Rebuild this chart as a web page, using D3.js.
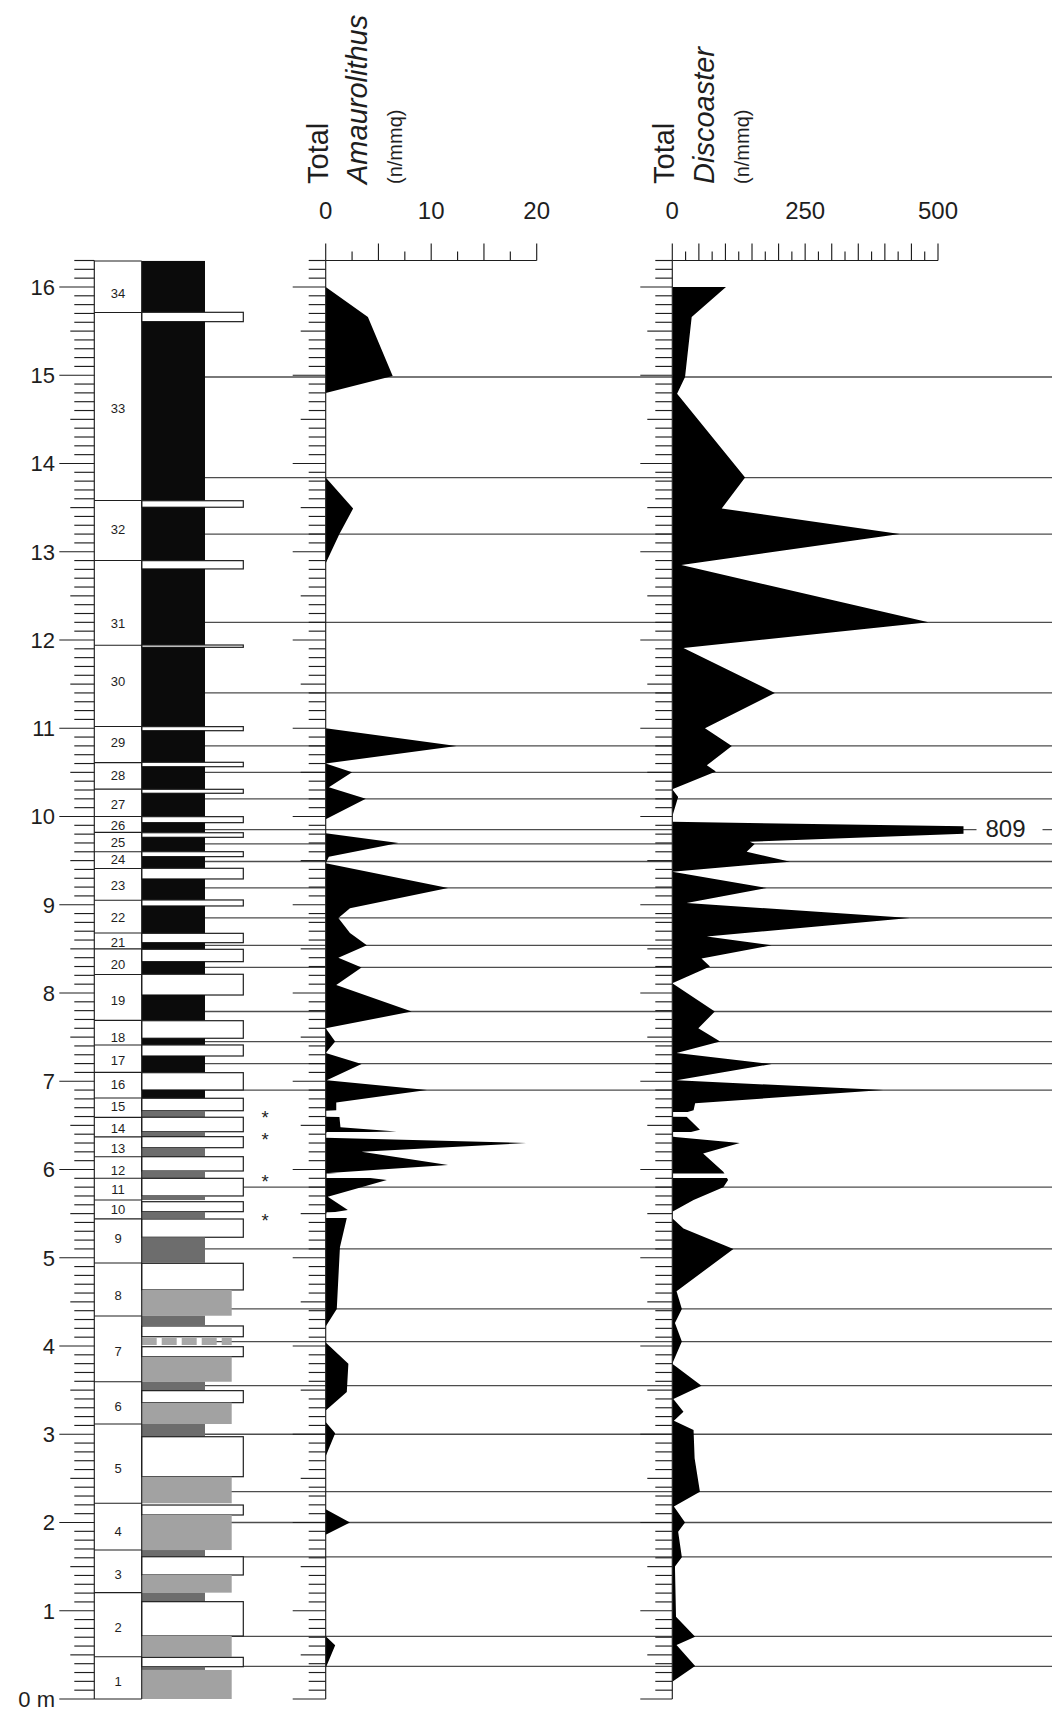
<!DOCTYPE html>
<html>
<head>
<meta charset="utf-8">
<script src="https://cdn.jsdelivr.net/npm/d3@7"></script>
<style>
  body { margin: 0; background: #fff; }
  svg { display: block; font-family: "Liberation Sans", Arial, sans-serif; }
</style>
</head>
<body>
<svg id="chart" width="1052" height="1714"></svg>
<script>
// ---------- data ----------
// Bed boundaries (m), base to top, and bed numbering
const bedBounds = [0, 0.479, 1.205, 1.688, 2.218, 3.116, 3.595, 4.34, 4.94, 5.44, 5.654, 5.90, 6.145,
  6.37, 6.59, 6.81, 7.10, 7.41, 7.69, 8.21, 8.50, 8.68, 9.05, 9.41, 9.60, 9.82, 10.00, 10.31, 10.61,
  11.02, 11.94, 12.90, 13.58, 15.71, 16.295];
const bedNames = d3.range(1, 35).map(String);
const bedLabelDepth = [0.20, 0.81, 1.41, 1.90, 2.61, 3.31, 3.94, 4.57, 5.22, 5.55, 5.77, 5.99, 6.24,
  6.47, 6.71, 6.96, 7.23, 7.49, 7.92, 8.32, 8.57, 8.86, 9.22, 9.51, 9.70, 9.90, 10.14, 10.46, 10.84,
  11.53, 12.19, 13.25, 14.62, 15.93];

// Lithological log: [top (m), base (m), facies]
const lithology = [
  [16.295, 15.713, "dark"], [15.713, 15.607, "pale"], [15.607, 13.578, "dark"], [13.578, 13.504, "pale"],
  [13.504, 12.899, "dark"], [12.899, 12.805, "pale"], [12.805, 11.943, "dark"], [11.943, 11.917, "pale"],
  [11.917, 11.018, "dark"], [11.018, 10.972, "pale"], [10.972, 10.614, "dark"], [10.614, 10.564, "pale"],
  [10.564, 10.308, "dark"], [10.308, 10.263, "pale"], [10.263, 9.998, "dark"], [9.998, 9.930, "pale"],
  [9.930, 9.816, "dark"], [9.816, 9.764, "pale"], [9.764, 9.601, "dark"], [9.601, 9.545, "pale"],
  [9.545, 9.413, "dark"], [9.413, 9.292, "pale"], [9.292, 9.054, "dark"], [9.054, 8.986, "pale"],
  [8.986, 8.676, "dark"], [8.676, 8.570, "pale"], [8.570, 8.495, "dark"], [8.495, 8.355, "pale"],
  [8.355, 8.212, "dark"], [8.212, 7.977, "pale"], [7.977, 7.686, "dark"], [7.686, 7.487, "pale"],
  [7.487, 7.411, "dark"], [7.411, 7.286, "pale"], [7.286, 7.097, "dark"], [7.097, 6.901, "pale"],
  [6.901, 6.807, "dark"], [6.807, 6.666, "pale"], [6.666, 6.592, "midgrey"], [6.592, 6.428, "pale"],
  [6.428, 6.372, "midgrey"], [6.372, 6.247, "pale"], [6.247, 6.145, "midgrey"], [6.145, 5.983, "pale"],
  [5.983, 5.900, "midgrey"], [5.900, 5.700, "pale"], [5.700, 5.654, "midgrey"], [5.635, 5.522, "pale"],
  [5.522, 5.447, "midgrey"], [5.439, 5.232, "pale"], [5.232, 4.944, "midgrey"], [4.937, 4.635, "pale"],
  [4.635, 4.343, "grey"], [4.343, 4.238, "midgrey"], [4.227, 4.105, "pale"], [4.092, 4.010, "wavy"],
  [3.992, 3.879, "pale"], [3.879, 3.595, "grey"], [3.595, 3.494, "midgrey"], [3.494, 3.358, "pale"],
  [3.358, 3.116, "grey"], [3.116, 2.972, "midgrey"], [2.972, 2.519, "pale"], [2.519, 2.218, "grey"],
  [2.198, 2.085, "pale"], [2.085, 1.688, "grey"], [1.688, 1.612, "midgrey"], [1.612, 1.405, "pale"],
  [1.405, 1.205, "grey"], [1.205, 1.103, "midgrey"], [1.103, 0.714, "pale"], [0.714, 0.479, "grey"],
  [0.472, 0.366, "pale"], [0.366, 0.329, "midgrey"], [0.329, 0, "grey"]
];

// Sampled levels traced across the panels (m)
const sampleDepths = [14.98, 13.84, 13.20, 12.20, 11.40, 10.80, 10.50, 10.20, 9.85, 9.69, 9.49, 9.19,
  8.85, 8.54, 8.29, 7.79, 7.45, 7.20, 6.90, 5.80, 5.10, 4.42, 4.05, 3.55, 3.00, 2.35, 2.00, 1.61, 0.71, 0.37];
// Blank strips in the curves, and the asterisks flagging them beside the log
const markedDepths = [6.625, 6.40, 5.93, 5.49];
const asteriskDepths = [6.635, 6.385, 5.91, 5.465];

// Total Amaurolithus (n/mmq)
const amauDepth = [16.00, 15.66, 14.99, 14.80, 13.84, 13.49, 13.20, 12.87, 11.00, 10.80, 10.60, 10.50,
  10.33, 10.20, 9.97, 9.81, 9.70, 9.545, 9.47, 9.19, 8.96, 8.85, 8.68, 8.54, 8.40, 8.29, 8.09, 7.79,
  7.60, 7.45, 7.32, 7.195, 7.01, 6.90, 6.76, 6.67, 6.665, 6.60, 6.595, 6.48, 6.43, 6.415, 6.36, 6.30,
  6.20, 6.05, 5.96, 5.88, 5.69, 5.54, 5.50, 5.45, 5.449, 5.12, 4.42, 4.22, 4.04, 3.80, 3.48, 3.27,
  3.14, 3.01, 2.75, 2.15, 2.00, 1.86, 0.71, 0.61, 0.35];
const amauValue = [0, 4.0, 6.35, 0, 0, 2.6, 1.3, 0, 0, 12.4, 0, 2.5,
  0.3, 3.8, 0, 0, 6.9, 0.3, 0, 11.6, 2.3, 1.2, 2.3, 3.9, 1.2, 3.4, 1.0, 8.15,
  0, 0.9, 0, 3.4, 0.1, 9.6, 1.0, 1.0, 0, 0, 1.3, 1.4, 6.7, 0, 0, 19.0,
  3.4, 11.6, 0.3, 5.8, 0.2, 2.1, 0, 0, 2.0, 1.35, 1.05, 0, 0, 2.15, 2.0, 0,
  0, 0.9, 0, 0, 2.3, 0, 0, 0.9, 0];

// Total Discoaster (n/mmq)
const discDepth = [16.00, 16.00, 15.66, 14.98, 14.79, 13.84, 13.49, 13.20, 12.85, 12.20, 11.91, 11.40,
  11.00, 10.80, 10.58, 10.51, 10.31, 10.22, 10.00, 9.94, 9.865, 9.714, 9.688, 9.60, 9.488, 9.375, 9.19,
  9.02, 8.85, 8.64, 8.54, 8.39, 8.30, 8.11, 7.79, 7.60, 7.45, 7.32, 7.195, 7.01, 6.90, 6.75, 6.67,
  6.60, 6.599, 6.45, 6.372, 6.30, 6.18, 5.975, 5.88, 5.80, 5.654, 5.522, 5.447, 5.33, 5.10, 4.62, 4.42,
  4.26, 4.05, 3.80, 3.55, 3.40, 3.256, 3.154, 3.048, 2.727, 2.349, 2.18, 2.00, 1.896, 1.606, 1.50,
  0.933, 0.706, 0.612, 0.374, 0.196];
const discValue = [0, 101, 36.5, 24, 9, 137, 93, 428, 17, 482, 21, 193,
  61.5, 112, 65, 82, 0, 11, 0, 0, 809, 146, 155, 140, 221.5, 0, 177.6,
  27, 447, 65, 187, 55, 71, 0, 80, 49, 90, 8, 187, 8, 397, 43, 40,
  0, 27, 52, 0, 127, 58, 96, 105, 96, 40, 0, 0, 21, 115, 8, 18,
  5, 18, 0, 55, 2, 21, 3, 40, 42, 52, 3, 24, 11, 18, 5,
  7, 43, 8, 43, 0];

// Axis ticks
const depthTicks = d3.range(0, 17);
const amauTickLabels = [0, 10, 20];
const discTickLabels = [0, 250, 500];

// ---------- layout ----------
const svg = d3.select("#chart");
const INK = "#1e1e1e";
const y = d3.scaleLinear().domain([0, 16.3]).range([1699, 260.5]);
const xA = d3.scaleLinear().domain([0, 20]).range([325.7, 536.7]);
const xD = d3.scaleLinear().domain([0, 500]).range([672.3, 938.0]);
const DISC_CAP = 548;            // curve values beyond this are cut at the panel edge

const COL = { ruler: 94.3, log: 141.7, dark: 205, grey: 231.7, pale: 243.3 };
const faciesFill = { dark: "#0b0b0b", midgrey: "#6d6d6d", grey: "#a2a2a2", pale: "#ffffff" };
const faciesRight = { dark: COL.dark, midgrey: COL.dark, grey: COL.grey, pale: COL.pale };

// sample levels
svg.append("g")
  .selectAll("line").data(sampleDepths).join("line")
  .attr("x1", COL.dark).attr("x2", 1052)
  .attr("y1", d => y(d)).attr("y2", d => y(d))
  .attr("stroke", "#4d4d4d").attr("stroke-width", 1.3);

// lithological log
const logG = svg.append("g");
logG.selectAll("rect")
  .data(lithology.filter(l => l[2] !== "wavy")).join("rect")
  .attr("x", COL.log)
  .attr("y", l => y(l[0]))
  .attr("width", l => faciesRight[l[2]] - COL.log)
  .attr("height", l => y(l[1]) - y(l[0]))
  .attr("fill", l => faciesFill[l[2]])
  .attr("stroke", l => l[2] === "pale" ? INK : "none")
  .attr("stroke-width", 1.2);
logG.selectAll("line.wavy")
  .data(lithology.filter(l => l[2] === "wavy")).join("line")
  .attr("class", "wavy")
  .attr("x1", COL.log).attr("x2", COL.grey)
  .attr("y1", l => y((l[0] + l[1]) / 2)).attr("y2", l => y((l[0] + l[1]) / 2))
  .attr("stroke", "#a8a8a8").attr("stroke-width", 7).attr("stroke-dasharray", "15 5");

// bed number column
const bedG = svg.append("g");
bedG.selectAll("line.bound").data(bedBounds).join("line")
  .attr("class", "bound")
  .attr("x1", COL.ruler).attr("x2", COL.log)
  .attr("y1", d => y(d)).attr("y2", d => y(d))
  .attr("stroke", INK).attr("stroke-width", 1.1);
bedG.append("line")
  .attr("x1", COL.log).attr("x2", COL.log)
  .attr("y1", y(bedBounds[bedBounds.length - 1])).attr("y2", y(0))
  .attr("stroke", INK).attr("stroke-width", 1.1);
bedG.selectAll("text").data(bedNames).join("text")
  .attr("x", (COL.ruler + COL.log) / 2)
  .attr("y", (d, i) => y(bedLabelDepth[i]) + 4.5)
  .attr("text-anchor", "middle")
  .attr("font-size", 13).attr("fill", INK)
  .text(d => d);

// curves
const areaOf = (x) => d3.area().y(p => y(p.d)).x0(x(0)).x1(p => x(p.v));
const amau = amauDepth.map((d, i) => ({ d, v: amauValue[i] }));
const disc = discDepth.map((d, i) => ({ d, v: discValue[i] }));

svg.append("path").datum(amau).attr("d", areaOf(xA)).attr("fill", "#000");

svg.append("clipPath").attr("id", "discClip")
  .append("rect")
  .attr("x", xD(0)).attr("y", 0)
  .attr("width", xD(DISC_CAP) - xD(0)).attr("height", 1714);
svg.append("path").datum(disc).attr("d", areaOf(xD))
  .attr("fill", "#000").attr("clip-path", "url(#discClip)");

// blank strips at asterisked levels
[[xA, 230], [xD, 300]].forEach(([x, span]) => {
  svg.append("g").selectAll("line").data(markedDepths).join("line")
    .attr("x1", x(0) + 0.8).attr("x2", x(0) + span)
    .attr("y1", d => y(d)).attr("y2", d => y(d))
    .attr("stroke", "#fff").attr("stroke-width", 4.5);
});

// depth rulers
function ruler(x0, majorLen, halfLen, minorLen) {
  const g = svg.append("g").attr("stroke", INK).attr("stroke-width", 1.15);
  g.selectAll("line.tick").data(d3.range(0, 164)).join("line")
    .attr("class", "tick")
    .attr("x1", i => x0 - (i % 10 === 0 ? majorLen : (i % 5 === 0 ? halfLen : minorLen)))
    .attr("x2", x0)
    .attr("y1", i => y(i / 10)).attr("y2", i => y(i / 10));
  g.append("line").attr("x1", x0).attr("x2", x0).attr("y1", y(16.3)).attr("y2", y(0));
}
ruler(COL.ruler, 35, 24, 20);
ruler(xA(0), 33, 25, 17);
ruler(xD(0), 32, 25, 17);

// depth labels
svg.append("g").selectAll("text").data(depthTicks).join("text")
  .attr("x", 55)
  .attr("y", d => y(d) + 8)
  .attr("text-anchor", "end")
  .attr("font-size", 22).attr("fill", INK)
  .text(d => d === 0 ? "0 m" : d);

// top value axes
function topAxis(x, max, step, bigStep, labels) {
  const g = svg.append("g");
  const y0 = y(16.3);
  g.append("line").attr("x1", x(0)).attr("x2", x(max)).attr("y1", y0).attr("y2", y0)
    .attr("stroke", INK).attr("stroke-width", 1.15);
  g.selectAll("line.t").data(d3.range(0, max + step / 2, step)).join("line")
    .attr("class", "t")
    .attr("x1", d => x(d)).attr("x2", d => x(d))
    .attr("y1", y0)
    .attr("y2", d => y0 - (Math.abs(d / bigStep - Math.round(d / bigStep)) < 1e-6 ? 17 : 9))
    .attr("stroke", INK).attr("stroke-width", 1.15);
  g.selectAll("text").data(labels).join("text")
    .attr("x", d => x(d)).attr("y", 219)
    .attr("text-anchor", "middle").attr("font-size", 24).attr("fill", INK)
    .text(d => d);
}
topAxis(xA, 20, 2.5, 5, amauTickLabels);
topAxis(xD, 500, 25, 50, discTickLabels);

// panel titles (rotated)
function title(x0, genus) {
  const rows = [
    { text: "Total", dx: 2, size: 29, style: "normal" },
    { text: genus, dx: 41.5, size: 29, style: "italic" },
    { text: "(n/mmq)", dx: 76.5, size: 20, style: "normal" }
  ];
  svg.append("g").selectAll("text").data(rows).join("text")
    .attr("transform", r => `translate(${x0 + r.dx},184) rotate(-90)`)
    .attr("font-size", r => r.size)
    .attr("font-style", r => r.style)
    .attr("fill", INK)
    .text(r => r.text);
}
title(xA(0), "Amaurolithus");
title(xD(0), "Discoaster");

// off-scale value label
const discMax = d3.max(discValue);
const discMaxDepth = discDepth[discValue.indexOf(discMax)];
svg.append("rect")
  .attr("x", xD(DISC_CAP) + 13).attr("y", y(discMaxDepth) - 14)
  .attr("width", 66).attr("height", 28).attr("fill", "#fff");
svg.append("text")
  .attr("x", xD(DISC_CAP) + 22).attr("y", y(discMaxDepth) + 8.5)
  .attr("font-size", 24).attr("fill", INK)
  .text(discMax);

// asterisks beside the log
svg.append("g").selectAll("text").data(asteriskDepths).join("text")
  .attr("x", 265).attr("y", d => y(d) + 10.5)
  .attr("text-anchor", "middle").attr("font-size", 18.5).attr("fill", INK)
  .text("*");
</script>
</body>
</html>
